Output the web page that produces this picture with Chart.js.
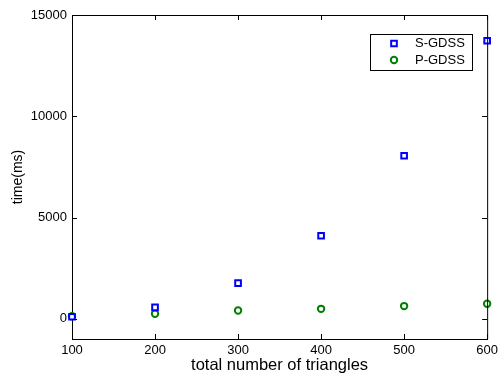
<!DOCTYPE html>
<html lang="en">
<head>
    <meta charset="UTF-8">
    <title>time vs total number of triangles</title>
    <script src="https://cdn.jsdelivr.net/npm/chart.js"></script>
    <style>
        html, body {
            margin: 0;
            padding: 0;
            background: #ffffff;
        }
        #wrap {
            width: 502px;
            height: 379px;
            position: relative;
        }
    </style>
</head>
<body>
    <div id="wrap">
        <canvas id="grafico" width="502" height="379"></canvas>
    </div>

    <script>
        // data
        const triangles = [100, 200, 300, 400, 500, 600];
        const sGdss = [100, 560, 1760, 4100, 8050, 13730];
        const pGdss = [120, 250, 410, 490, 625, 740];
        const seriesNames = ['S-GDSS', 'P-GDSS'];
        const xTicks = [100, 200, 300, 400, 500, 600];
        const yTicks = [0, 5000, 10000, 15000];

        const FONT = '"Liberation Sans", Arial, Helvetica, sans-serif';
        const BLUE = '#0000ff';
        const GREEN = '#008000';

        // MATLAB style box: inward ticks on all four sides + top/right frame
        const boxPlugin = {
            id: 'boxPlugin',
            afterDatasetsDraw(chart) {
                const { ctx, chartArea: a, scales } = chart;
                const len = 5;
                ctx.save();
                ctx.strokeStyle = '#000';
                ctx.lineWidth = 1;
                ctx.beginPath();
                ctx.moveTo(a.left, a.top + 0.5);
                ctx.lineTo(a.right + 0.5, a.top + 0.5);
                ctx.lineTo(a.right + 0.5, a.bottom);
                xTicks.forEach(v => {
                    const x = Math.round(scales.x.getPixelForValue(v)) + 0.5;
                    ctx.moveTo(x, a.bottom);
                    ctx.lineTo(x, a.bottom - len);
                    ctx.moveTo(x, a.top);
                    ctx.lineTo(x, a.top + len);
                });
                yTicks.forEach(v => {
                    const y = Math.round(scales.y.getPixelForValue(v)) + 0.5;
                    ctx.moveTo(a.left, y);
                    ctx.lineTo(a.left + len, y);
                    ctx.moveTo(a.right, y);
                    ctx.lineTo(a.right - len, y);
                });
                ctx.stroke();
                ctx.restore();
            },
            afterDraw(chart) {
                // legend box, top right inside the axes
                const { ctx } = chart;
                const bx = 370.5, by = 34.5, bw = 102, bh = 36;
                ctx.save();
                ctx.fillStyle = '#fff';
                ctx.fillRect(bx, by, bw, bh);
                ctx.strokeStyle = '#000';
                ctx.lineWidth = 1;
                ctx.strokeRect(bx, by, bw, bh);
                ctx.font = '13px ' + FONT;
                ctx.textBaseline = 'middle';
                const rows = [43.5, 60];
                chart.data.datasets.forEach((ds, i) => {
                    ctx.strokeStyle = ds.borderColor;
                    ctx.fillStyle = '#fff';
                    ctx.lineWidth = ds.borderWidth;
                    Chart.helpers.drawPoint(ctx, {
                        pointStyle: ds.pointStyle,
                        radius: ds.pointRadius,
                        rotation: 0,
                        borderWidth: ds.borderWidth
                    }, 394, rows[i]);
                    ctx.fillStyle = '#000';
                    ctx.fillText(seriesNames[i], 415, rows[i]);
                });
                ctx.restore();
            }
        };

        const ctx = document.getElementById('grafico').getContext('2d');
        new Chart(ctx, {
            type: 'scatter',
            data: {
                datasets: [{
                    label: seriesNames[0],
                    data: triangles.map((t, i) => ({ x: t, y: sGdss[i] })),
                    pointStyle: 'rect',
                    pointRadius: 4,
                    borderWidth: 2,
                    borderColor: BLUE,
                    backgroundColor: '#ffffff',
                    clip: false
                }, {
                    label: seriesNames[1],
                    data: triangles.map((t, i) => ({ x: t, y: pGdss[i] })),
                    pointStyle: 'circle',
                    pointRadius: 3.2,
                    borderWidth: 2,
                    borderColor: GREEN,
                    backgroundColor: '#ffffff',
                    clip: false
                }]
            },
            options: {
                responsive: false,
                animation: false,
                events: [],
                layout: { padding: { top: 15, right: 12, left: 0, bottom: 0 } },
                plugins: {
                    legend: { display: false },
                    tooltip: { enabled: false }
                },
                scales: {
                    x: {
                        type: 'linear',
                        min: 100,
                        max: 600,
                        afterBuildTicks: s => { s.ticks = xTicks.map(v => ({ value: v })); },
                        afterFit: s => { s.height = 40; },
                        grid: { display: false, drawTicks: false },
                        border: { display: true, color: '#000', width: 1 },
                        ticks: {
                            color: '#000',
                            padding: 4,
                            font: { family: FONT, size: 13 },
                            callback: v => String(v)
                        },
                        title: {
                            display: true,
                            text: 'total number of triangles',
                            color: '#000',
                            padding: { top: 0, bottom: 4 },
                            font: { family: FONT, size: 16.5 }
                        }
                    },
                    y: {
                        type: 'linear',
                        min: -1000,
                        max: 15000,
                        afterBuildTicks: s => { s.ticks = yTicks.map(v => ({ value: v })); },
                        afterFit: s => { s.width = 72; },
                        grid: { display: false, drawTicks: false },
                        border: { display: true, color: '#000', width: 1 },
                        ticks: {
                            color: '#000',
                            padding: 5,
                            font: { family: FONT, size: 13 },
                            callback: v => String(v)
                        },
                        title: {
                            display: true,
                            text: 'time(ms)',
                            color: '#000',
                            padding: { top: 10, bottom: 0 },
                            font: { family: FONT, size: 14 }
                        }
                    }
                }
            },
            plugins: [boxPlugin]
        });
    </script>
</body>
</html>
